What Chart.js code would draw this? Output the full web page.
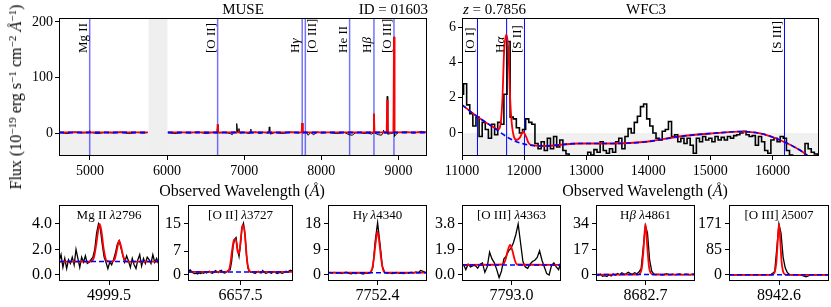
<!DOCTYPE html>
<html>
<head>
<meta charset="utf-8">
<script src="https://cdn.jsdelivr.net/npm/chart.js@4.4.1/dist/chart.umd.min.js"></script>
<style>
  body { margin: 0; background: #fff; width: 831px; height: 307px; overflow: hidden; position: relative;
         font-family: "Liberation Serif", "DejaVu Serif", serif; }
  .txt { position: absolute; white-space: nowrap; color: #000; line-height: 1; }
  .txt sup { font-size: 70%; position: relative; top: -0.45em; vertical-align: baseline; line-height: 0; }
</style>
</head>
<body>
<script>
// ---------- MUSE spectrum (top left) ----------
var museWave = [4600,4700,4800,4900,4990,4996,5002,5100,5200,5300,5400,5500,5600,5700,5750,5760,6010,6100,6200,6300,
  6400,6500,6600,6645,6653,6660,6667,6750,6820,6845,6870,6895,6900,6906,6915,6925,6932,6940,7000,7060,
  7080,7086,7095,7150,7200,7250,7300,7318,7325,7332,7340,7400,7500,7600,7700,7745,7752,7759,7800,7830,
  7860,7900,7950,8000,8100,8200,8300,8360,8400,8440,8500,8550,8600,8650,8676,8683,8690,8740,8780,8800,
  8808,8820,8847,8855,8862,8900,8935,8943,8950,8965,9000,9100,9200,9300,9371];
var museFlux = [1,-1,2,0,1,4,1,-1,1,0,2,-1,1,0,1,null,1,-1,1,0,
  2,-1,1,0,11,15,0,1,-1,-3,2,0,0,17,1,4,8,0,1,-1,
  0,7,0,2,-1,1,0,0,11,3,-2,1,-1,2,0,1,18,0,2,-4,
  1,-3,2,0,1,-1,1,-3,-4,0,1,-1,0,-2,0,34,0,-3,-4,0,
  5,0,0,66,-2,-1,0,173,-6,-3,1,2,0,3,1];
var museModelWave = [4598,4988,4993,4998,5001,5006,5011,5750,5760,6010,6648,6655,6662,7745,7752,7759,8676,8683,8690,8848,8855,8862,8936,8943,8950,9371];
var museModelFlux = [1,1,4,1,1,2.5,1,1,null,1,1,16,1,1,18,1,1,35,1,1,60,1,1,173,1,1];
var museContWave = [4598,5750,5760,6010,9371];
var museContFlux = [1,1,null,1,1];
var museLineWave = [4996.1, 6655.6, 7752.4, 7793.0, 8367.3, 8682.7, 8942.6];
var museLineName = ['Mg II', '[O II]', 'Hγ', '[O III]', 'He II', 'Hβ', '[O III]'];
var museLineSide = ['left', 'left', 'left', 'right', 'left', 'left', 'left'];
var museGap = [5760, 6005];

// ---------- WFC3 grism spectrum (top right) ----------
var wfc3Start = 11000, wfc3Step = 50;
var wfc3Flux = [2.2,2.8,1.6,1.1,0.4,0.9,-0.2,0.6,0.2,-0.3,
  0.5,-0.1,0.6,0.5,2.2,5.2,0.9,0.8,0.3,0.0,
  0.2,0.8,0.6,0.5,-0.6,-0.9,-0.5,-1.0,-0.3,-0.9,
  -0.2,-0.8,-0.4,-1.0,-1.2,-1.5,-1.5,-1.6,-1.5,-1.4,
  -1.6,-1.1,-1.25,-0.95,-1.1,-0.5,-1.0,-1.15,-0.9,-1.1,
  -0.5,-0.3,-0.9,-0.2,0.25,0.0,0.6,0.95,1.5,1.65,
  0.8,0.4,0.0,-0.3,-0.4,0.1,0.2,0.65,-0.2,-0.1,
  -0.5,-0.3,-0.6,-0.3,-0.7,-1.15,-0.3,-0.5,-0.2,-0.4,
  -0.3,-0.5,-0.2,-0.4,-0.25,-0.4,-0.2,-0.3,-0.15,-0.1,
  0.0,0.1,-0.1,-0.2,-0.15,-0.7,-0.2,-0.5,-1.0,-1.15,
  -0.4,-0.3,-0.5,-0.2,-0.3,-1.0,-1.25,-1.4,-1.5,-1.4,
  -1.5,-0.6,-0.9,-1.1,-1.2,-1.25];
var wfc3ModelWave = [11000,11220,11490,11580,11625,11652,11678,11716,11748,11775,11800,11835,11880,11935,11985,
  12030,12070,12110,12300,12890,13430,13970,14500,15040,15475,15800,16120,16440,16550,16750];
var wfc3ModelFlux = [1.6,1.0,0.36,0.2,0.6,2.0,4.6,5.6,4.6,2.0,0.6,-0.2,-0.4,-0.25,0.08,
  -0.2,-0.55,-0.68,-0.74,-0.6,-0.6,-0.5,-0.2,-0.02,0.08,-0.02,-0.4,-0.97,-1.25,-1.9];
var wfc3ContWave = [11000,11220,11490,11760,11990,12300,12890,13430,13970,14500,15040,15475,15800,16120,16440,16550,16750];
var wfc3ContFlux = [1.6,1.0,0.36,-0.3,-0.62,-0.74,-0.6,-0.6,-0.5,-0.2,-0.02,0.08,-0.02,-0.4,-0.97,-1.25,-1.9];
var wfc3LineWave = [11249, 11719, 12006, 16194];
var wfc3LineName = ['[O I]', 'Hα', '[S II]', '[S III]'];
var wfc3LineSide = ['left', 'left', 'left', 'left'];

// ---------- zoom-in panels (bottom row) ----------
var zoomCenter = [4999.5, 6657.5, 7752.4, 7793.0, 8682.7, 8942.6];
var zoomIon = ['Mg II', '[O II]', 'H<i>γ</i>', '[O III]', 'H<i>β</i>', '[O III]'];
var zoomRest = [2796, 3727, 4340, 4363, 4861, 5007];
var zoomYTicks = [[0, 2, 4], [0, 7, 15], [0, 9, 18], [0, 1.9, 3.8], [0, 17, 34], [0, 85, 171]];
var zoomYDigits = [1, 0, 0, 1, 0, 0];
var zoomCont = [1.05, 0.9, 0.8, 0.75, 0.3, 0.5];
var zoomStart = [4966.25, 6613.75, 7702.5, 7742.5, 8625, 8885];
var zoomStep = [1.25, 1.25, 2.5, 2.5, 2.5, 2.5];

var mg2Flux = [1.1,1.6,0.6,1.3,0.5,1.2,0.9,1.4,0.8,2.0, 1.3,0.6,1.4,1.0,1.5,0.9,1.0,1.2,1.4,2.0,
  3.3,4.0,3.6,2.4,1.4,1.0,0.5,1.0,0.8,1.2, 1.7,2.4,2.7,2.1,1.5,1.0,1.5,1.1,0.6,1.3,
  0.8,0.5,1.2,1.6,0.7,1.3,0.9,1.4,1.2,0.9, 1.6,1.0,1.3,0.9];
var o2Flux = [1.2,1.5,1.0,0.6,0.4,0.5,0.3,0.6,0.4,0.7, 0.5,0.8,0.6,0.9,1.1,0.7,0.5,0.8,1.3,1.0,
  0.7,1.2,1.4,0.9,0.6,0.7,1.0,1.5,1.5,4.0, 8.5,10.5,11.0,7.5,5.5,9.0,14.0,15.2,12.0,6.0,
  2.0,1.0,0.8,0.9,0.6,0.5,0.8,1.1,0.7,0.6, 1.3,0.9,0.5,0.6,0.8,0.7,0.5,0.9,1.0,0.6,
  0.4,0.7,0.8,0.5,0.6,0.9,1.1,0.8,1.2,1.4, 1.0];
var hgFlux = [0.9,0.7,0.9,0.6,0.8,0.5,0.8,1.0,0.6,0.4, 0.7,0.5,0.8,0.6,0.3,0.7,0.6,0.9,2.5,12.0,
  18.5,11.0,3.0,0.9,0.6,0.8,0.5,0.7,0.9,0.6, 0.7,0.5,0.8,0.6,1.0,0.7,1.1,0.8,1.6,1.3, 0.9];
var o3aFlux = [0.8,0.4,0.8,0.6,0.7,0.7,0.5,0.8,0.9,0.2, 0.6,1.7,1.2,0.9,0.4,-0.2,0.3,1.2,1.4,1.8,
  2.0,2.4,3.0,3.8,2.4,1.0,0.6,0.5,0.8,1.0, 1.1,1.3,1.8,1.1,0.6,0.1,0.0,0.7,0.9,0.6, 0.4,1.0];
var hbFlux = [0.3,-0.3,0.5,-0.8,-0.5,-1.0,0.2,-0.6,0.6,-0.2, 1.0,0.1,1.5,0.6,0.8,1.8,0.9,0.4,1.5,0.8,
  2.0,4.0,18,33,28,10,2.5,0.6,0.2,0.5, 0.3,0.0,0.4,0.8,0.3,0.2,0.5,0.1,0.4,0.7,
  0.3,0.2,0.6,0.4,0.1,0.5,0.7];
var o3bFlux = [0.5,0.3,0.8,0.2,0.6,0.9,0.4,0.6,0.2,0.7, 0.5,0.9,0.3,0.6,0.4,0.8,0.5,0.3,0.9,1.0,
  6,12,90,171,140,60,24,8,2,0.6, 0.2,0.5,0.4,0.3,-1.5,-4,-6,-3,0.2,0.6, 0.2,0.7,0.5,0.3,0.8,0.6,0.4];
var zoomFlux = [mg2Flux, o2Flux, hgFlux, o3aFlux, hbFlux, o3bFlux];

var zoomModelWave = [
  [4966.15,4987,4989.5,4991,4992.3,4993.3,4994.5,4996,4998,5001.5,5003.5,5005,5006.3,5007.6,5009.2,5011.5,5032.85],
  [6613.1,6644,6647.5,6649,6650.5,6652,6653.5,6655,6656.3,6657.7,6659.2,6660.2,6661.5,6663,6664.5,6666.5,6701.9],
  [7700.7,7744,7746.5,7748.5,7750.5,7752.4,7754.3,7756.3,7758.3,7760.8,7804.1],
  [7741,7784,7786.5,7789,7791.5,7794,7796.5,7799,7845],
  [8624.8,8674,8676.5,8678.5,8680.5,8682.7,8684.9,8686.9,8688.9,8691.5,8740.6],
  [8882.9,8934,8937,8939.5,8941,8942.6,8944.2,8945.7,8948.2,8951,9002.3]
];
var zoomModelFlux = [
  [1.05,1.05,1.4,2.4,3.5,4.0,3.4,2.0,1.1,1.05,1.3,2.1,2.7,2.2,1.4,1.05,1.05],
  [0.9,0.9,1.3,3.5,7.5,10.3,10.5,7.0,6.3,10.5,14.5,14.6,11.0,4.5,1.6,0.9,0.9],
  [0.8,0.8,1.8,5.5,11.5,15.5,11.5,5.5,1.8,0.8,0.8],
  [0.75,0.78,1.1,1.8,2.25,1.8,1.1,0.78,0.75],
  [0.3,0.3,1.2,5,18,34,18,5,1.2,0.3,0.3],
  [0.5,0.5,6,45,110,171,110,45,6,0.5,0.5]
];

// ---------- layout ----------
var SERIF = '"Liberation Serif", "DejaVu Serif", serif';
Chart.defaults.font.family = SERIF;
Chart.defaults.color = '#000';

var museBox = { l: 59, t: 18, r: 427, b: 156 };
var wfc3Box = { l: 462, t: 18, r: 819, b: 156 };
var zoomX = [[59, 159], [188, 293], [328, 427], [462, 561], [596, 695], [729, 829]];
var zoomTop = 205, zoomBottom = 281;

function pts(xs, ys) {
  return xs.map(function (x, i) { return { x: x, y: ys[i] }; });
}
function grid(start, step, ys) {
  return ys.map(function (y, i) { return { x: start + step * i, y: y }; });
}

function drawLineLabel(ctx, name, px, y0, side) {
  ctx.save();
  ctx.translate(side === 'right' ? px + 11 : px - 3, y0);
  ctx.rotate(-Math.PI / 2);
  ctx.textAlign = 'left';
  ctx.textBaseline = 'alphabetic';
  ctx.fillStyle = '#000';
  ctx.font = '13px ' + SERIF;
  var m = name.match(/^H([αβγ])$/);
  if (m) {
    ctx.fillText('H', 0, 0);
    var w = ctx.measureText('H').width;
    ctx.font = 'italic 13px ' + SERIF;
    ctx.fillText(m[1], w, 0);
  } else {
    ctx.fillText(name, 0, 0);
  }
  ctx.restore();
}

function makePanel(box, cfg) {
  var WY = 50, PT = 16, PR = 6;
  var w = box.r - box.l + WY + PR, h = box.b - box.t + PT + cfg.hx;
  var cv = document.createElement('canvas');
  cv.width = w; cv.height = h;
  cv.style.cssText = 'position:absolute;left:' + (box.l - WY) + 'px;top:' + (box.t - PT) +
    'px;width:' + w + 'px;height:' + h + 'px';
  document.body.appendChild(cv);

  function axis(min, max, ticks, fmt, isX) {
    return {
      type: 'linear', min: min, max: max,
      afterBuildTicks: function (s) { s.ticks = ticks.map(function (v) { return { value: v }; }); },
      afterFit: function (s) { if (isX) s.height = cfg.hx; else s.width = WY; },
      ticks: { autoSkip: false, maxRotation: 0, minRotation: 0, padding: isX ? cfg.xpad : cfg.ypad,
               font: { size: cfg.tickSize }, color: '#000', callback: fmt },
      grid: { drawOnChartArea: false, drawTicks: true, tickLength: 4, tickWidth: 1, tickColor: '#000' },
      border: { display: false }
    };
  }

  return new Chart(cv, {
    type: 'line',
    data: { datasets: cfg.datasets },
    options: {
      responsive: false, animation: false, events: [],
      layout: { padding: { left: 0, top: PT, right: PR, bottom: 0 } },
      plugins: { legend: { display: false }, tooltip: { enabled: false } },
      elements: { point: { radius: 0 } },
      scales: {
        x: axis(cfg.xmin, cfg.xmax, cfg.xticks, cfg.xfmt, true),
        y: axis(cfg.ymin, cfg.ymax, cfg.yticks, cfg.yfmt, false)
      }
    },
    plugins: [{
      id: 'frame',
      beforeDatasetsDraw: function (c) {
        var ctx = c.ctx, a = c.chartArea, xs = c.scales.x, ys = c.scales.y;
        ctx.save();
        if (cfg.shade) {
          var y0 = ys.getPixelForValue(0);
          ctx.fillStyle = '#f0f0f0';
          ctx.fillRect(a.left, y0, a.right - a.left, a.bottom - y0);
        }
        if (cfg.gap) {
          var g0 = xs.getPixelForValue(cfg.gap[0]), g1 = xs.getPixelForValue(cfg.gap[1]);
          ctx.fillStyle = '#efefef';
          ctx.fillRect(g0, a.top, g1 - g0, a.bottom - a.top);
        }
        if (cfg.lines) {
          cfg.lines.wave.forEach(function (lw, i) {
            var px = xs.getPixelForValue(lw);
            ctx.strokeStyle = cfg.lines.color;
            ctx.lineWidth = cfg.lines.width;
            ctx.beginPath();
            ctx.moveTo(px, a.top);
            ctx.lineTo(px, a.bottom);
            ctx.stroke();
            drawLineLabel(ctx, cfg.lines.name[i], px, a.top + 35, cfg.lines.side[i]);
          });
        }
        ctx.restore();
      },
      afterDatasetsDraw: function (c) {
        var ctx = c.ctx, a = c.chartArea;
        ctx.save();
        ctx.strokeStyle = '#000';
        ctx.lineWidth = 1;
        ctx.strokeRect(Math.round(a.left) + 0.5, Math.round(a.top) + 0.5,
          Math.round(a.right - a.left) - 1, Math.round(a.bottom - a.top) - 1);
        ctx.restore();
      }
    }]
  });
}

function contSet(data, width, dash) {
  return { data: data, borderColor: '#0000ff', borderWidth: width, borderDash: dash, fill: false,
           tension: 0.4, cubicInterpolationMode: 'monotone' };
}
function modelSet(data, width, smooth) {
  return { data: data, borderColor: '#ff0000', borderWidth: width, fill: false,
           tension: smooth ? 0.4 : 0, cubicInterpolationMode: smooth ? 'monotone' : 'default' };
}
function specSet(data, width, stepped) {
  return { data: data, borderColor: '#000000', borderWidth: width, fill: false, tension: 0, stepped: stepped };
}

// MUSE
makePanel(museBox, {
  xmin: 4598, xmax: 9371, ymin: -41.4, ymax: 207,
  xticks: [5000, 6000, 7000, 8000, 9000], yticks: [0, 100, 200],
  xfmt: function (v) { return String(v); }, yfmt: function (v) { return String(v); },
  tickSize: 14, xpad: 3, ypad: 2, hx: 26, shade: true, gap: museGap,
  lines: { wave: museLineWave, name: museLineName, side: museLineSide, color: 'rgba(0,0,255,0.55)', width: 1.5 },
  datasets: [
    contSet(pts(museContWave, museContFlux), 2, [5, 4]),
    modelSet(pts(museModelWave, museModelFlux), 1.8, false),
    specSet(pts(museWave, museFlux), 1, false)
  ]
});

// WFC3
makePanel(wfc3Box, {
  xmin: 11000, xmax: 16750, ymin: -1.31, ymax: 6.54,
  xticks: [11000, 12000, 13000, 14000, 15000, 16000], yticks: [0, 2, 4, 6],
  xfmt: function (v) { return String(v); }, yfmt: function (v) { return String(v); },
  tickSize: 14, xpad: 3, ypad: 2, hx: 26, shade: true,
  lines: { wave: wfc3LineWave, name: wfc3LineName, side: wfc3LineSide, color: '#0000ff', width: 1 },
  datasets: [
    contSet(pts(wfc3ContWave, wfc3ContFlux), 1.6, [5, 3]),
    modelSet(pts(wfc3ModelWave, wfc3ModelFlux), 1.8, true),
    specSet(grid(wfc3Start, wfc3Step, wfc3Flux), 1.6, 'middle')
  ]
});

// zoom panels
zoomCenter.forEach(function (c, i) {
  var half = c * 2000 / 299792.458;
  var M = zoomYTicks[i][2];
  var d = zoomYDigits[i];
  makePanel({ l: zoomX[i][0], t: zoomTop, r: zoomX[i][1], b: zoomBottom }, {
    xmin: c - half, xmax: c + half, ymin: -0.118 * M, ymax: 1.372 * M,
    xticks: [c], yticks: zoomYTicks[i],
    xfmt: function (v) { return v.toFixed(1); }, yfmt: function (v) { return v.toFixed(d); },
    tickSize: 16, xpad: 1, ypad: 3, hx: 26, shade: false,
    datasets: [
      contSet([{ x: c - half, y: zoomCont[i] }, { x: c + half, y: zoomCont[i] }], 1.5, [5, 3]),
      modelSet(pts(zoomModelWave[i], zoomModelFlux[i]), 1.8, true),
      specSet(grid(zoomStart[i], zoomStep[i], zoomFlux[i]), 1.3, false)
    ]
  });
});

// ---------- text ----------
function addText(html, x, baseline, size, align, extra) {
  var el = document.createElement('div');
  el.className = 'txt';
  el.innerHTML = html;
  el.style.fontSize = size + 'px';
  el.style.left = x + 'px';
  el.style.top = (baseline - 0.8375 * size) + 'px';
  var tx = align === 'center' ? '-50%' : (align === 'right' ? '-100%' : '0');
  el.style.transform = 'translateX(' + tx + ')';
  if (extra) el.style.cssText += extra;
  document.body.appendChild(el);
  return el;
}

addText('MUSE', 243, 15, 15, 'center');
addText('ID = 01603', 428, 15, 15, 'right');
addText('<i>z</i> = 0.7856', 463, 15, 15, 'left');
addText('WFC3', 646, 15, 15, 'center');
addText('Observed Wavelength (<i>Å</i>)', 242, 196, 16, 'center');
addText('Observed Wavelength (<i>Å</i>)', 645, 196, 16, 'center');

zoomCenter.forEach(function (c, i) {
  addText(zoomIon[i] + ' <i>λ</i>' + zoomRest[i], (zoomX[i][0] + zoomX[i][1]) / 2, 219, 13, 'center');
});

var yt = document.createElement('div');
yt.className = 'txt';
yt.innerHTML = 'Flux (10<sup>−19</sup> erg s<sup>−1</sup> cm<sup>−2</sup> <i>Å</i><sup>−1</sup>)';
yt.style.cssText += 'font-size:16px;left:16px;top:97px;transform:translate(-50%,-50%) rotate(-90deg);';
document.body.appendChild(yt);
</script>
</body>
</html>
